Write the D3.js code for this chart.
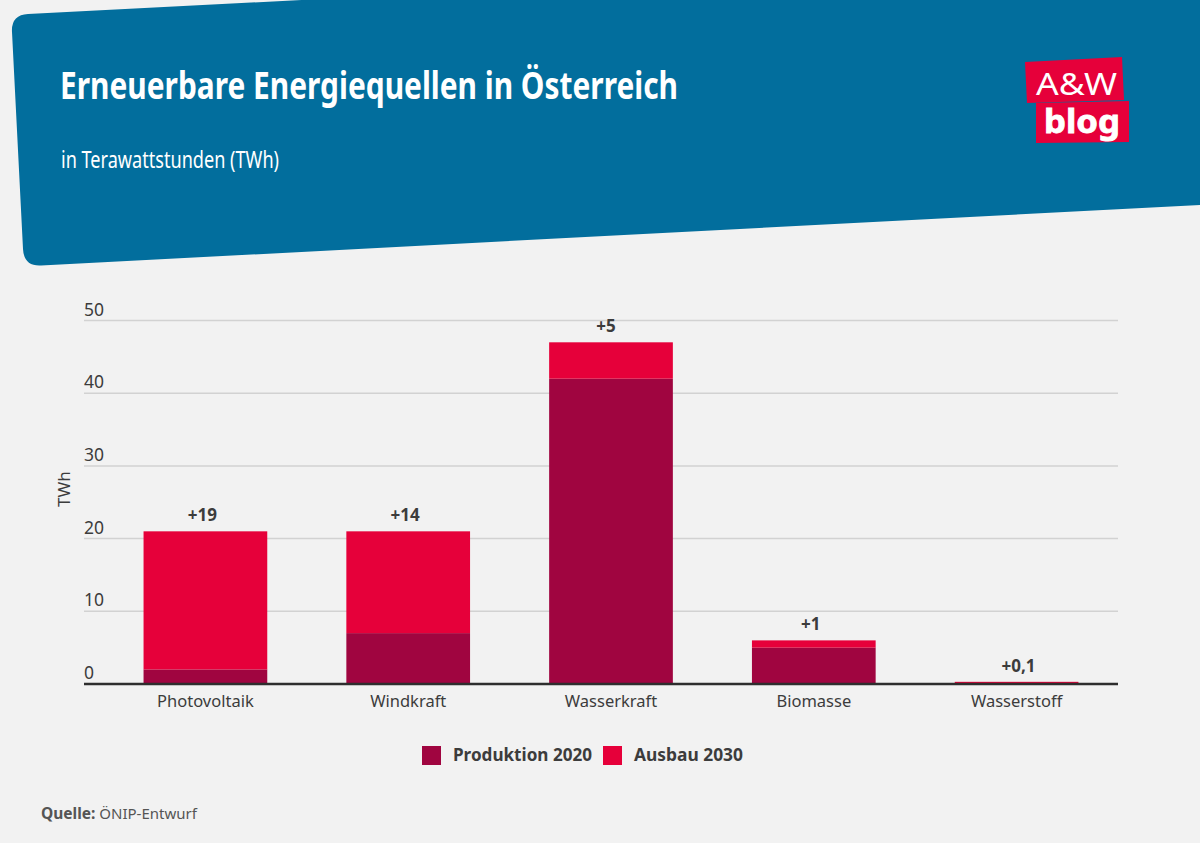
<!DOCTYPE html>
<html>
<head>
<meta charset="utf-8">
<script src="https://cdn.jsdelivr.net/npm/d3@7"></script>
<style>
  html, body { margin: 0; padding: 0; background: #f2f2f2; }
  svg { display: block; }
  text { font-family: "Noto Sans", "Open Sans", sans-serif; }
</style>
</head>
<body>
<div id="chart"></div>
<script>
const categories = ["Photovoltaik", "Windkraft", "Wasserkraft", "Biomasse", "Wasserstoff"];
const produktion2020 = [2, 7, 42, 5, 0];
const ausbau2030 = [19, 14, 5, 1, 0.3];
const increaseLabels = ["+19", "+14", "+5", "+1", "+0,1"];
const yTicks = [0, 10, 20, 30, 40, 50];
const seriesNames = ["Produktion 2020", "Ausbau 2030"];

const width = 1200, height = 843;
const textColor = "#3c3c3c";
const darkRed = "#a00540", red = "#e6003a", blue = "#026e9d";

const svg = d3.select("#chart").append("svg")
  .attr("width", width)
  .attr("height", height);

svg.append("rect").attr("width", width).attr("height", height).attr("fill", "#f2f2f2");

// tilted header with rounded corners on the left
svg.append("path")
  .attr("fill", blue)
  .attr("d", "M1200,-46 L28,14 Q11,15 12,32 L23,249 Q24,266.500 41,265.500 L1200,205 Z");

// fits a text to a measured width, the installed fonts are wider than the original
function fit(sel, w) {
  return sel.attr("textLength", w).attr("lengthAdjust", "spacingAndGlyphs");
}

fit(svg.append("text").attr("x", 60).attr("y", 99)
  .attr("fill", "#fff").attr("font-size", 38).attr("font-weight", 700)
  .text("Erneuerbare Energiequellen in Österreich"), 618);

fit(svg.append("text").attr("x", 61).attr("y", 168)
  .attr("fill", "#fff").attr("font-size", 23)
  .text("in Terawattstunden (TWh)"), 218);

// logo
svg.append("polygon").attr("fill", red).attr("points", "1025,62 1122,57 1124,100 1027,103");
svg.append("polygon").attr("fill", red).attr("points", "1036,103 1129,101 1129,142 1036,143");
fit(svg.append("text").attr("x", 1036).attr("y", 95)
  .attr("fill", "#fff").attr("font-size", 31)
  .text("A&W"), 81);
fit(svg.append("text").attr("x", 1044).attr("y", 133)
  .attr("fill", "#fff").attr("stroke", "#fff").attr("stroke-width", 0.8)
  .attr("font-size", 33).attr("font-weight", 700)
  .text("blog"), 76);

// scales
const x = d3.scaleBand().domain(categories).range([104, 1118]).paddingInner(0.39).paddingOuter(0.195);
const y = d3.scaleLinear().domain([0, 50]).range([684, 320.5]);

// gridlines
svg.append("g").selectAll("line").data(yTicks.filter(t => t > 0)).join("line")
  .attr("x1", 84).attr("x2", 1118)
  .attr("y1", d => y(d)).attr("y2", d => y(d))
  .attr("stroke", "#d2d2d2").attr("stroke-width", 1.5);

// y tick labels
svg.append("g").selectAll("text").data(yTicks).join("text")
  .attr("x", 84).attr("y", d => y(d) - 5)
  .attr("fill", textColor).attr("font-size", 17.5)
  .text(d => d);

svg.append("text")
  .attr("transform", "translate(70,489) rotate(-90)")
  .attr("text-anchor", "middle")
  .attr("fill", textColor).attr("font-size", 17)
  .text("TWh");

// bars
svg.append("g").selectAll("rect").data(categories).join("rect")
  .attr("x", d => x(d)).attr("width", x.bandwidth())
  .attr("y", (d, i) => y(produktion2020[i]))
  .attr("height", (d, i) => y(0) - y(produktion2020[i]))
  .attr("fill", darkRed);

svg.append("g").selectAll("rect").data(categories).join("rect")
  .attr("x", d => x(d)).attr("width", x.bandwidth())
  .attr("y", (d, i) => y(produktion2020[i] + ausbau2030[i]))
  .attr("height", (d, i) => y(produktion2020[i]) - y(produktion2020[i] + ausbau2030[i]))
  .attr("fill", red);

// increase labels, the original has them slightly off centre
const labelShift = [-3, -3, -5, -3, 2];
svg.append("g").selectAll("text").data(categories).join("text")
  .attr("x", (d, i) => x(d) + x.bandwidth() / 2 + labelShift[i])
  .attr("y", (d, i) => y(produktion2020[i] + ausbau2030[i]) - 10)
  .attr("text-anchor", "middle")
  .attr("fill", textColor).attr("font-size", 17).attr("font-weight", 700)
  .text((d, i) => increaseLabels[i]);

// x axis
const xAxis = svg.append("g").attr("transform", "translate(0,684)").call(d3.axisBottom(x).tickSize(0).tickPadding(11));
xAxis.select(".domain").remove();
xAxis.append("line").attr("x1", 84).attr("x2", 1118).attr("stroke", "#2e2e2e").attr("stroke-width", 2.4);
xAxis.selectAll(".tick text")
  .attr("fill", textColor).attr("font-size", 16.5)
  .attr("font-family", '"Noto Sans", sans-serif');

// legend
const legendX = [422, 603];
const legendW = [139, 109];
seriesNames.forEach((name, i) => {
  svg.append("rect").attr("x", legendX[i]).attr("y", 746).attr("width", 19).attr("height", 19)
    .attr("fill", i === 0 ? darkRed : red);
  fit(svg.append("text").attr("x", legendX[i] + 31).attr("y", 761)
    .attr("fill", textColor).attr("font-size", 18).attr("font-weight", 700)
    .text(name), legendW[i]);
});

// source
const source = svg.append("text").attr("x", 41).attr("y", 819).attr("fill", "#555").attr("font-size", 15.5);
source.append("tspan").attr("font-weight", 700).text("Quelle:");
source.append("tspan").attr("font-size", 15).text(" ÖNIP-Entwurf");
</script>
</body>
</html>
